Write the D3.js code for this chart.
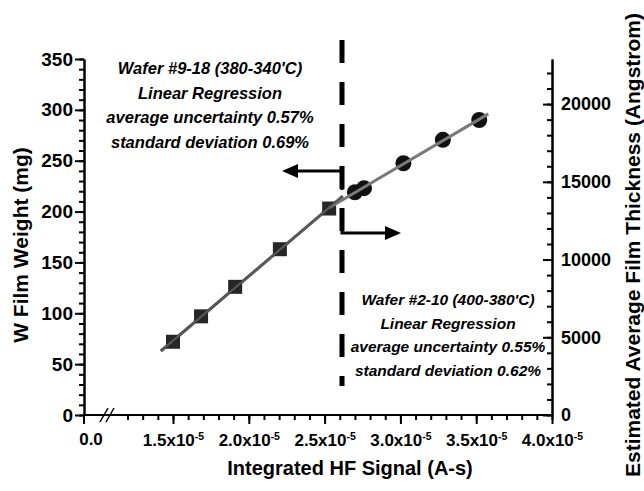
<!DOCTYPE html>
<html>
<head>
<meta charset="utf-8">
<script src="https://cdn.jsdelivr.net/npm/d3@7"></script>
<style>
	body { margin: 0; background: #fff; }
	svg { font-family: "Liberation Sans", Arial, sans-serif; font-weight: bold; }
	.axis path, .axis line { stroke: #000; stroke-width: 2px; }
	.axis text { fill: #000; font-weight: bold; }
	.note { font-style: italic; font-size: 16.5px; }
	.noteB { font-size: 15.5px; }
</style>
</head>
<body>
<svg id="chart" width="644" height="491"></svg>
<script>
// signal in units of 1e-5 A-s, weight in mg
var signalA = [1.50, 1.685, 1.91, 2.205, 2.53];
var weightA = [72, 97, 126, 163, 203];
var signalB = [2.70, 2.76, 3.02, 3.28, 3.52];
var weightB = [219, 223, 247.5, 270.5, 290];

var weightTicks = [0, 50, 100, 150, 200, 250, 300, 350];
var thickTicks = [0, 5000, 10000, 15000, 20000];
var signalTicks = [1.5, 2.0, 2.5, 3.0, 3.5, 4.0];

var notesA = ["Wafer #9-18 (380-340'C)", "Linear Regression", "average uncertainty 0.57%", "standard deviation 0.69%"];
var notesB = ["Wafer #2-10 (400-380'C)", "Linear Regression", "average uncertainty 0.55%", "standard deviation 0.62%"];

var plotL = 84, plotR = 552, plotT = 59, plotB = 415;
var svg = d3.select('#chart');

var x = d3.scaleLinear().domain([1.5, 4.0]).range([173, plotR]);
var y = d3.scaleLinear().domain([0, 350]).range([plotB, plotT]);
var y2 = d3.scaleLinear().domain([0, 22900]).range([plotB, plotT]);

// least squares fit for each wafer group
function fit(xs, ys) {
	var mx = d3.mean(xs), my = d3.mean(ys);
	var sxy = 0, sxx = 0;
	for (var i = 0; i < xs.length; i++) {
		sxy += (xs[i] - mx) * (ys[i] - my);
		sxx += (xs[i] - mx) * (xs[i] - mx);
	}
	var b = sxy / sxx;
	return function(v) { return my + b * (v - mx); };
}
var fitA = fit(signalA, weightA), fitB = fit(signalB, weightB);

// left axis
svg.append('g').attr('class', 'axis')
	.attr('transform', 'translate(' + plotL + ',0)')
	.call(d3.axisLeft(y).tickValues(d3.range(0, 351, 10)).tickSize(5).tickSizeOuter(0).tickFormat(''));
svg.append('g').attr('class', 'axis')
	.attr('transform', 'translate(' + plotL + ',0)')
	.call(d3.axisLeft(y).tickValues(weightTicks).tickSize(9).tickSizeOuter(0).tickPadding(2))
	.selectAll('text').style('font-size', '19px');

// right axis, ticks pointing inward
svg.append('g').attr('class', 'axis')
	.attr('transform', 'translate(' + plotR + ',0)')
	.call(d3.axisRight(y2).tickValues(d3.range(0, 22001, 1000)).tickSize(-5).tickSizeOuter(0).tickFormat(''));
svg.append('g').attr('class', 'axis')
	.attr('transform', 'translate(' + plotR + ',0)')
	.call(d3.axisRight(y2).tickValues(thickTicks).tickSize(-9).tickSizeOuter(0).tickPadding(9).tickFormat(d3.format('d')))
	.selectAll('text').style('font-size', '18px');

// bottom axis (broken between 0.0 and 1.5e-5)
svg.append('line')
	.attr('x1', plotL).attr('x2', plotR).attr('y1', plotB).attr('y2', plotB)
	.attr('stroke', '#000').attr('stroke-width', 2);
svg.append('g').attr('class', 'axis')
	.attr('transform', 'translate(0,' + plotB + ')')
	.call(d3.axisBottom(x).tickValues(d3.range(1.2, 4.001, 0.1)).tickSize(5).tickSizeOuter(0).tickFormat(''))
	.select('.domain').remove();
var xAxis = svg.append('g').attr('class', 'axis')
	.attr('transform', 'translate(0,' + plotB + ')')
	.call(d3.axisBottom(x).tickValues(signalTicks).tickSize(9).tickSizeOuter(0).tickPadding(10).tickFormat(''));
xAxis.select('.domain').remove();
xAxis.selectAll('.tick text').each(function(d) {
	var t = d3.select(this).style('font-size', '17px');
	t.append('tspan').text(d.toFixed(1) + 'x10');
	t.append('tspan').attr('dy', '-0.55em').style('font-size', '10.5px').text('-5');
});
// zero tick
svg.append('line').attr('x1', plotL).attr('x2', plotL).attr('y1', plotB).attr('y2', plotB + 9)
	.attr('stroke', '#000').attr('stroke-width', 2);
svg.append('text').attr('x', plotL + 7).attr('y', plotB + 30)
	.attr('text-anchor', 'middle').style('font-size', '17px').text('0.0');
// break marks
[104, 110].forEach(function(bx) {
	svg.append('line')
		.attr('x1', bx - 4).attr('y1', plotB + 7).attr('x2', bx + 4).attr('y2', plotB - 7)
		.attr('stroke', '#000').attr('stroke-width', 1.5);
});

// axis titles
svg.append('text')
	.attr('transform', 'translate(28,' + ((plotT + plotB) / 2 + 8) + ') rotate(-90)')
	.attr('text-anchor', 'middle').style('font-size', '21px').text('W Film Weight (mg)');
svg.append('text')
	.attr('transform', 'translate(640,' + ((plotT + plotB) / 2 + 8) + ') rotate(-90)')
	.attr('text-anchor', 'middle').style('font-size', '21px').text('Estimated Average Film Thickness (Angstrom)');
svg.append('text')
	.attr('x', 350).attr('y', 475)
	.attr('text-anchor', 'middle').style('font-size', '20px').text('Integrated HF Signal (A-s)');

// divider and arrows
var divX = 342;
svg.append('line')
	.attr('x1', divX).attr('x2', divX).attr('y1', 40).attr('y2', 386)
	.attr('stroke', '#000').attr('stroke-width', 5).attr('stroke-dasharray', '23,19');
svg.append('path')
	.attr('d', 'M' + divX + ',190 V171 H296')
	.attr('fill', 'none').attr('stroke', '#000').attr('stroke-width', 3);
svg.append('path').attr('d', 'M282,171 L298,164 L298,178 Z').attr('fill', '#000');
svg.append('path')
	.attr('d', 'M' + divX + ',208 V233 H386')
	.attr('fill', 'none').attr('stroke', '#000').attr('stroke-width', 3);
svg.append('path').attr('d', 'M401,233 L385,226 L385,240 Z').attr('fill', '#000');

// regression lines
var line = d3.line().x(function(d) { return x(d[0]); }).y(function(d) { return y(d[1]); });
svg.append('path')
	.datum([[1.42, fitA(1.42)], [2.62, fitA(2.62)]])
	.attr('d', line).attr('fill', 'none').attr('stroke', '#4a4a4a').attr('stroke-width', 3);

// markers group A (squares)
svg.selectAll('rect.ptA').data(signalA).enter().append('rect')
	.attr('class', 'ptA')
	.attr('x', function(d) { return x(d) - 7; })
	.attr('y', function(d, i) { return y(weightA[i]) - 7; })
	.attr('width', 14).attr('height', 14)
	.attr('fill', '#262626');

// markers group B (circles)
svg.selectAll('circle.ptB').data(signalB).enter().append('circle')
	.attr('class', 'ptB')
	.attr('cx', function(d) { return x(d); })
	.attr('cy', function(d, i) { return y(weightB[i]); })
	.attr('r', 8)
	.attr('fill', '#111');

svg.append('path')
	.datum([[2.53, fitB(2.53)], [3.58, fitB(3.58)]])
	.attr('d', line).attr('fill', 'none').attr('stroke', '#7a7a7a').attr('stroke-width', 3);
svg.append('path')
	.datum([[1.42, fitA(1.42)], [2.62, fitA(2.62)]])
	.attr('d', line).attr('fill', 'none').attr('stroke', '#5a5a5a').attr('stroke-width', 2);

// annotations
svg.selectAll('text.noteA').data(notesA).enter().append('text')
	.attr('class', 'note noteA')
	.attr('x', 210).attr('y', function(d, i) { return 74 + i * 24.5; })
	.attr('text-anchor', 'middle').text(function(d) { return d; });
svg.selectAll('text.noteB').data(notesB).enter().append('text')
	.attr('class', 'note noteB')
	.attr('x', 448).attr('y', function(d, i) { return 305 + i * 23.5; })
	.attr('text-anchor', 'middle').text(function(d) { return d; });
</script>
</body>
</html>
